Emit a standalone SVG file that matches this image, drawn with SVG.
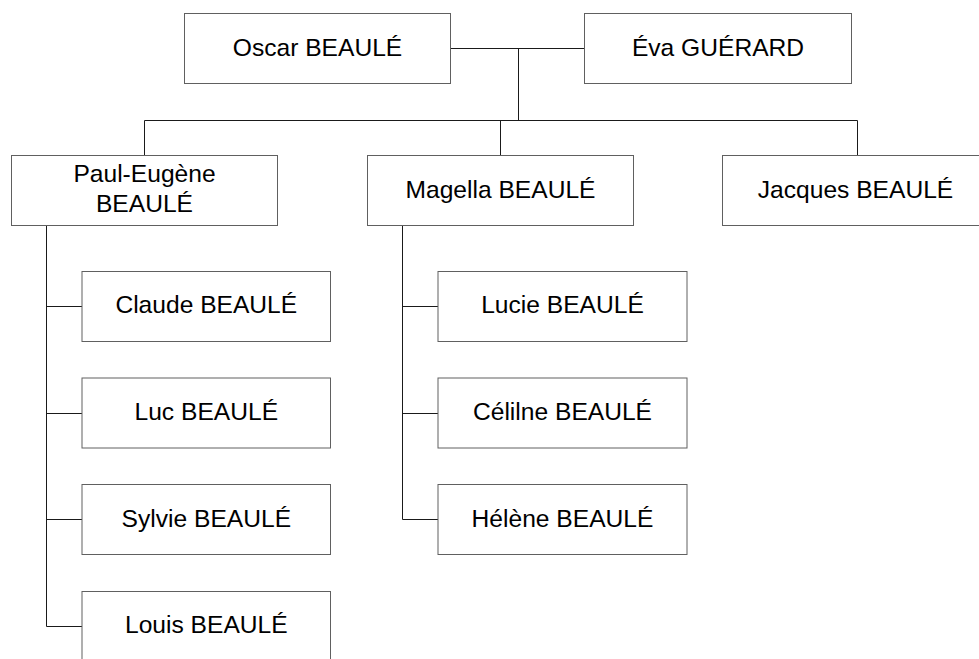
<svg xmlns="http://www.w3.org/2000/svg" width="979" height="659" viewBox="0 0 979 659">
<style>
.box{fill:#fff;stroke:#606060;stroke-width:1}
.lbl{font-family:"Liberation Sans",Arial,sans-serif;font-size:24.6px;fill:#000;text-anchor:middle}
.ln{fill:none;stroke:#1a1a1a;stroke-width:1}
</style>
<rect width="979" height="659" fill="#fff"/>
<g id="connectors">
<path class="ln" d="M450.5,48.5H584.5"/>
<path class="ln" d="M518.5,48.5V120.5"/>
<path class="ln" d="M144.5,120.5H857.5"/>
<path class="ln" d="M144.5,120.5V155.5"/>
<path class="ln" d="M500.5,120.5V155.5"/>
<path class="ln" d="M857.5,120.5V155.5"/>
<path class="ln" d="M46.5,225.5V626.5H82"/>
<path class="ln" d="M46.5,306.5H82"/>
<path class="ln" d="M46.5,413.5H82"/>
<path class="ln" d="M46.5,519.5H82"/>
<path class="ln" d="M402.5,225.5V519.5H438"/>
<path class="ln" d="M402.5,306.5H438"/>
<path class="ln" d="M402.5,413.5H438"/>
</g>
<g id="oscar"><rect class="box" x="184.5" y="13.5" width="266" height="70"/><text class="lbl" x="317.5" y="55.5">Oscar BEAULÉ</text></g>
<g id="eva"><rect class="box" x="584.5" y="13.5" width="267" height="70"/><text class="lbl" x="718" y="55.5">Éva GUÉRARD</text></g>
<g id="paul"><rect class="box" x="11.5" y="155.5" width="266" height="70"/><text class="lbl" x="144.5" y="182">Paul-Eugène</text><text class="lbl" x="144.5" y="212">BEAULÉ</text></g>
<g id="magella"><rect class="box" x="367.5" y="155.5" width="266" height="70"/><text class="lbl" x="500.5" y="197.5">Magella BEAULÉ</text></g>
<g id="jacques"><rect class="box" x="722.5" y="155.5" width="266" height="70"/><text class="lbl" x="855.5" y="197.5">Jacques BEAULÉ</text></g>
<g id="claude"><rect class="box" x="82" y="271.5" width="248.5" height="70"/><text class="lbl" x="206.3" y="313.3">Claude BEAULÉ</text></g>
<g id="luc"><rect class="box" x="82" y="378" width="248.5" height="70"/><text class="lbl" x="206.3" y="420">Luc BEAULÉ</text></g>
<g id="sylvie"><rect class="box" x="82" y="484.5" width="248.5" height="70"/><text class="lbl" x="206.3" y="526.5">Sylvie BEAULÉ</text></g>
<g id="louis"><rect class="box" x="82" y="591.5" width="248.5" height="70"/><text class="lbl" x="206.3" y="633.3">Louis BEAULÉ</text></g>
<g id="lucie"><rect class="box" x="438" y="271.5" width="249" height="70"/><text class="lbl" x="562.5" y="313.3">Lucie BEAULÉ</text></g>
<g id="celine"><rect class="box" x="438" y="378" width="249" height="70"/><text class="lbl" x="562.5" y="420">Célilne BEAULÉ</text></g>
<g id="helene"><rect class="box" x="438" y="484.5" width="249" height="70"/><text class="lbl" x="562.5" y="526.5">Hélène BEAULÉ</text></g>
</svg>
